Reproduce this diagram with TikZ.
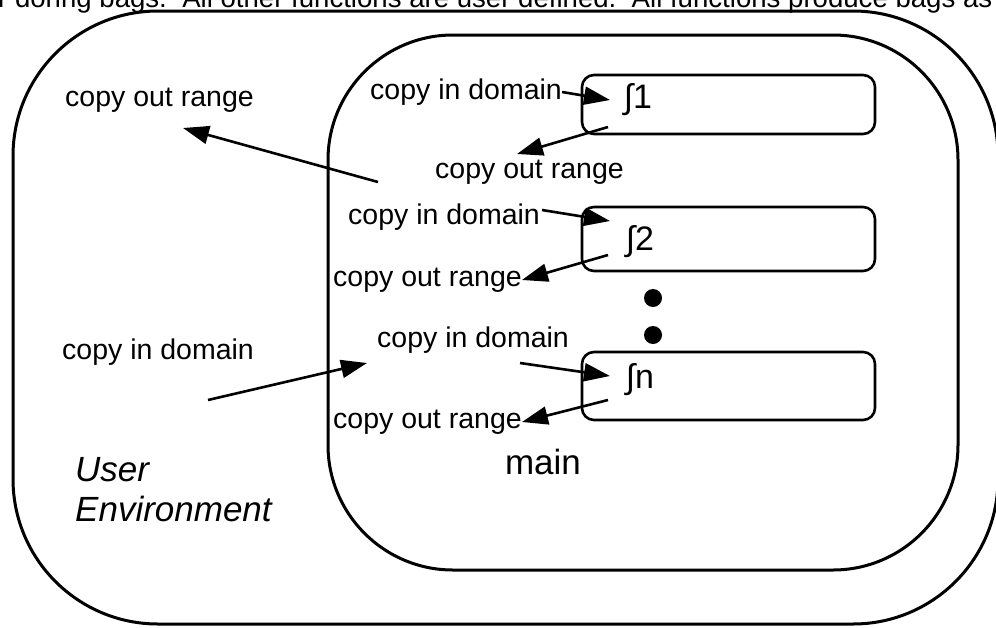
\documentclass[tikz,border=0pt]{standalone}
\usepackage{fontspec}
\setmainfont{Liberation Sans}
\usetikzlibrary{arrows.meta}
\begin{document}
\begin{tikzpicture}[x=1pt,y=-1pt,
  lbl/.style={font=\fontsize{28.5}{31}\selectfont, inner sep=0pt},
  capt/.style={font=\fontsize{27.6}{30}\selectfont, inner sep=0pt},
  big/.style={font=\fontsize{35}{38}\selectfont, inner sep=0pt},
  bigit/.style={font=\fontsize{35}{38}\selectfont\itshape, inner sep=0pt},
  fname/.style={font=\fontsize{34}{36}\selectfont, inner sep=0pt},
  fbox/.style={draw, line width=2.6pt, rounded corners=12pt},
  conn/.style={line width=2.6pt, -{Triangle[length=26pt,width=18pt]}},
  outline/.style={draw, line width=3pt}]
\useasboundingbox (0,0) rectangle (996,627);
% top clipped caption
\node[capt, anchor=base west] (cap) at (-2,7) {r doring bags.\ \ All other functions are user defined.\ \ All functions produce bags as};
% outer environment and main
\draw[outline, rounded corners=145pt] (13,11) rectangle (998,624);
\draw[outline, rounded corners=125pt] (328,35) rectangle (958,570);
% function boxes
\draw[fbox] (582,75) rectangle (875,134);
\draw[fbox] (582,207) rectangle (875,271);
\draw[fbox] (582,352) rectangle (875,420);
\node[fname] (f1) at (638,100) {∫1};
\node[fname] (f2) at (640,242) {∫2};
\node[fname] (fn) at (640,380) {∫n};
% dots
\fill (653,298) circle (9pt);
\fill (653,335) circle (9pt);
% labels
\node[lbl, anchor=west] (cor0) at (65,100) {copy out range};
\node[lbl, anchor=west] (cid1) at (370,92) {copy in domain};
\node[lbl, anchor=west] (cor1) at (435,172) {copy out range};
\node[lbl, anchor=west] (cid2) at (348,217) {copy in domain};
\node[lbl, anchor=west] (cor2) at (333,280) {copy out range};
\node[lbl, anchor=west] (cid3) at (377,340) {copy in domain};
\node[lbl, anchor=west] (cor3) at (333,422) {copy out range};
\node[lbl, anchor=west] (cid0) at (62,352) {copy in domain};
\node[big] (main) at (543,462) {main};
\node[bigit, anchor=west] (user) at (75,470) {User};
\node[bigit, anchor=west] (env) at (75,509) {Environment};
% connector end points
\coordinate (f1in) at (610,100);
\coordinate (f1out) at (608,127);
\coordinate (f1tip) at (517,154);
\coordinate (f2in) at (610,221);
\coordinate (f2from) at (542,210);
\coordinate (f2out) at (608,255);
\coordinate (fnin) at (610,376);
\coordinate (fnfrom) at (520,363);
\coordinate (fnout) at (608,400);
\coordinate (bigfrom) at (378,182);
\coordinate (bigtip) at (183,128);
\coordinate (leftfrom) at (208,400);
\coordinate (lefttip) at (367,363);
% connectors
\draw[conn] (cid1.east) -- (f1in);
\draw[conn] (f1out) -- (f1tip);
\draw[conn] (f2from) -- (f2in);
\draw[conn] (f2out) -- (cor2.east);
\draw[conn] (fnfrom) -- (fnin);
\draw[conn] (fnout) -- (cor3.east);
\draw[conn] (bigfrom) -- (bigtip);
\draw[conn] (leftfrom) -- (lefttip);
\end{tikzpicture}
\end{document}
